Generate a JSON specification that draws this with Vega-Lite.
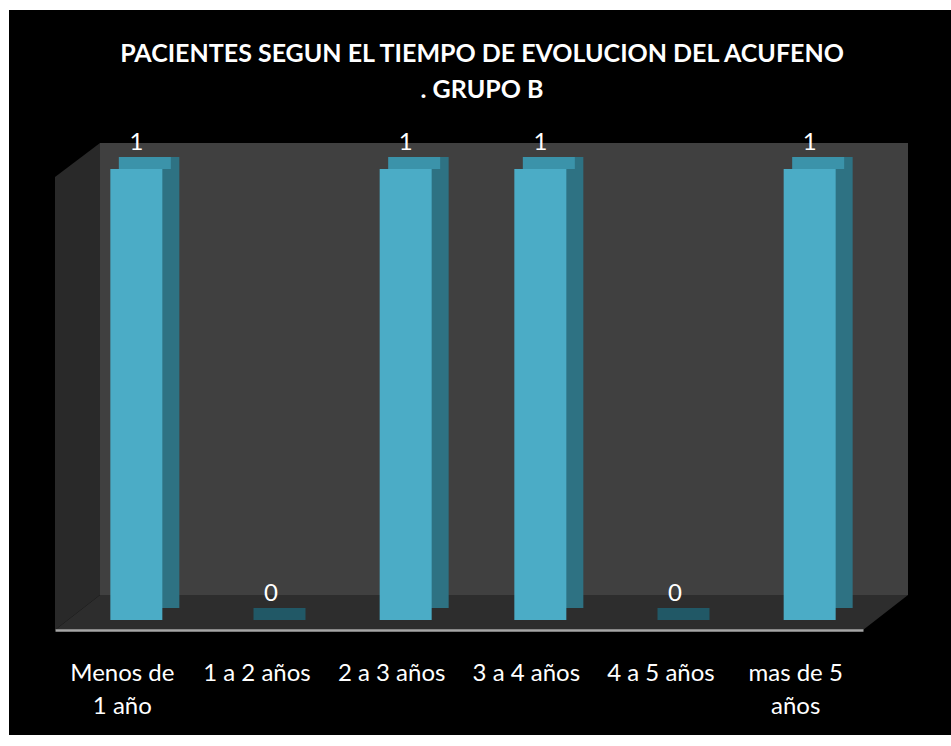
{
  "$schema": "https://vega.github.io/schema/vega-lite/v6.json",
  "width": 808,
  "height": 451,
  "autosize": "none",
  "padding": {"left": 55, "top": 179, "right": 88, "bottom": 116},
  "background": "#ffffff",
  "config": {"font": "Lato", "view": {"stroke": null}},
  "title": {
    "text": ["PACIENTES SEGUN EL TIEMPO DE EVOLUCION DEL ACUFENO", ". GRUPO B"],
    "color": "#ffffff",
    "font": "Lato",
    "fontSize": 25,
    "fontWeight": "bold",
    "lineHeight": 36,
    "anchor": "middle",
    "dx": 23,
    "offset": -93
  },
  "data": {
    "values": [
      {"tiempo": "Menos de 1 año", "pacientes": 1},
      {"tiempo": "1 a 2 años", "pacientes": 0},
      {"tiempo": "2 a 3 años", "pacientes": 1},
      {"tiempo": "3 a 4 años", "pacientes": 1},
      {"tiempo": "4 a 5 años", "pacientes": 0},
      {"tiempo": "mas de 5 años", "pacientes": 1}
    ]
  },
  "layer": [
    {
      "data": {"values": [{"panel": "chart"}]},
      "mark": {"type": "point", "filled": true, "opacity": 1, "strokeWidth": 0, "size": 4, "color": "#000000",
        "shape": "M -450 -620 L 492 -620 L 492 105 L -450 105 Z"},
      "encoding": {"y": {"datum": 0, "type": "quantitative", "scale": {"domain": [0, 1]}, "axis": null}}
    },
    {
      "data": {"values": [{"pared": "fondo"}]},
      "mark": {"type": "point", "filled": true, "opacity": 1, "strokeWidth": 0, "size": 4, "color": "#404040",
        "shape": "M -359 -487 L 449 -487 L 449 -35 L -359 -35 Z"},
      "encoding": {"y": {"datum": 0, "type": "quantitative"}}
    },
    {
      "data": {"values": [{"pared": "lateral"}]},
      "mark": {"type": "point", "filled": true, "opacity": 1, "strokeWidth": 0, "size": 4, "color": "#292929",
        "shape": "M -404 -453 L -359 -487 L -359 -35 L -404 0 Z"},
      "encoding": {"y": {"datum": 0, "type": "quantitative"}}
    },
    {
      "data": {"values": [{"pared": "piso"}]},
      "mark": {"type": "point", "filled": true, "opacity": 1, "strokeWidth": 0, "size": 4, "color": "#2d2d2d",
        "shape": "M -404 0 L 404 0 L 449 -35 L -359 -35 Z"},
      "encoding": {"y": {"datum": 0, "type": "quantitative"}}
    },
    {
      "mark": {"type": "bar", "width": 52, "color": "#2e7283", "xOffset": 31, "yOffset": -22, "y2Offset": -22},
      "encoding": {
        "x": {"field": "tiempo", "type": "nominal", "sort": null,
          "scale": {"paddingInner": 0, "paddingOuter": 0},
          "axis": {
            "title": null,
            "zindex": 1,
            "ticks": false,
            "domainColor": "#a6a6a6",
            "domainWidth": 2.5,
            "labelAngle": 0,
            "labelColor": "#ffffff",
            "labelFont": "Lato",
            "labelFontSize": 24,
            "labelPadding": 31,
            "labelLineHeight": 33,
            "labelOverlap": false,
            "labelExpr": "datum.label == 'Menos de 1 año' ? ['Menos de', '1 año'] : datum.label == 'mas de 5 años' ? ['mas de 5', 'años'] : datum.label"
          }
        },
        "y": {"field": "pacientes", "type": "quantitative"}
      }
    },
    {
      "mark": {"type": "bar", "width": 52, "xOffset": 22.5, "yOffset": -22, "y2Offset": -10},
      "encoding": {
        "x": {"field": "tiempo", "type": "nominal", "sort": null},
        "y": {"field": "pacientes", "type": "quantitative"},
        "y2": {"field": "pacientes"},
        "color": {"condition": {"test": "datum.pacientes == 0", "value": "#215866"}, "value": "#3b93aa"}
      }
    },
    {
      "mark": {"type": "bar", "width": 52, "color": "#4bacc6", "xOffset": 14, "yOffset": -10, "y2Offset": -10},
      "encoding": {
        "x": {"field": "tiempo", "type": "nominal", "sort": null},
        "y": {"field": "pacientes", "type": "quantitative"}
      }
    },
    {
      "mark": {"type": "text", "color": "#ffffff", "font": "Lato", "fontSize": 24, "baseline": "alphabetic", "xOffset": 14, "yOffset": -29},
      "encoding": {
        "x": {"field": "tiempo", "type": "nominal", "sort": null},
        "y": {"field": "pacientes", "type": "quantitative"},
        "text": {"field": "pacientes", "type": "quantitative"}
      }
    }
  ]
}
